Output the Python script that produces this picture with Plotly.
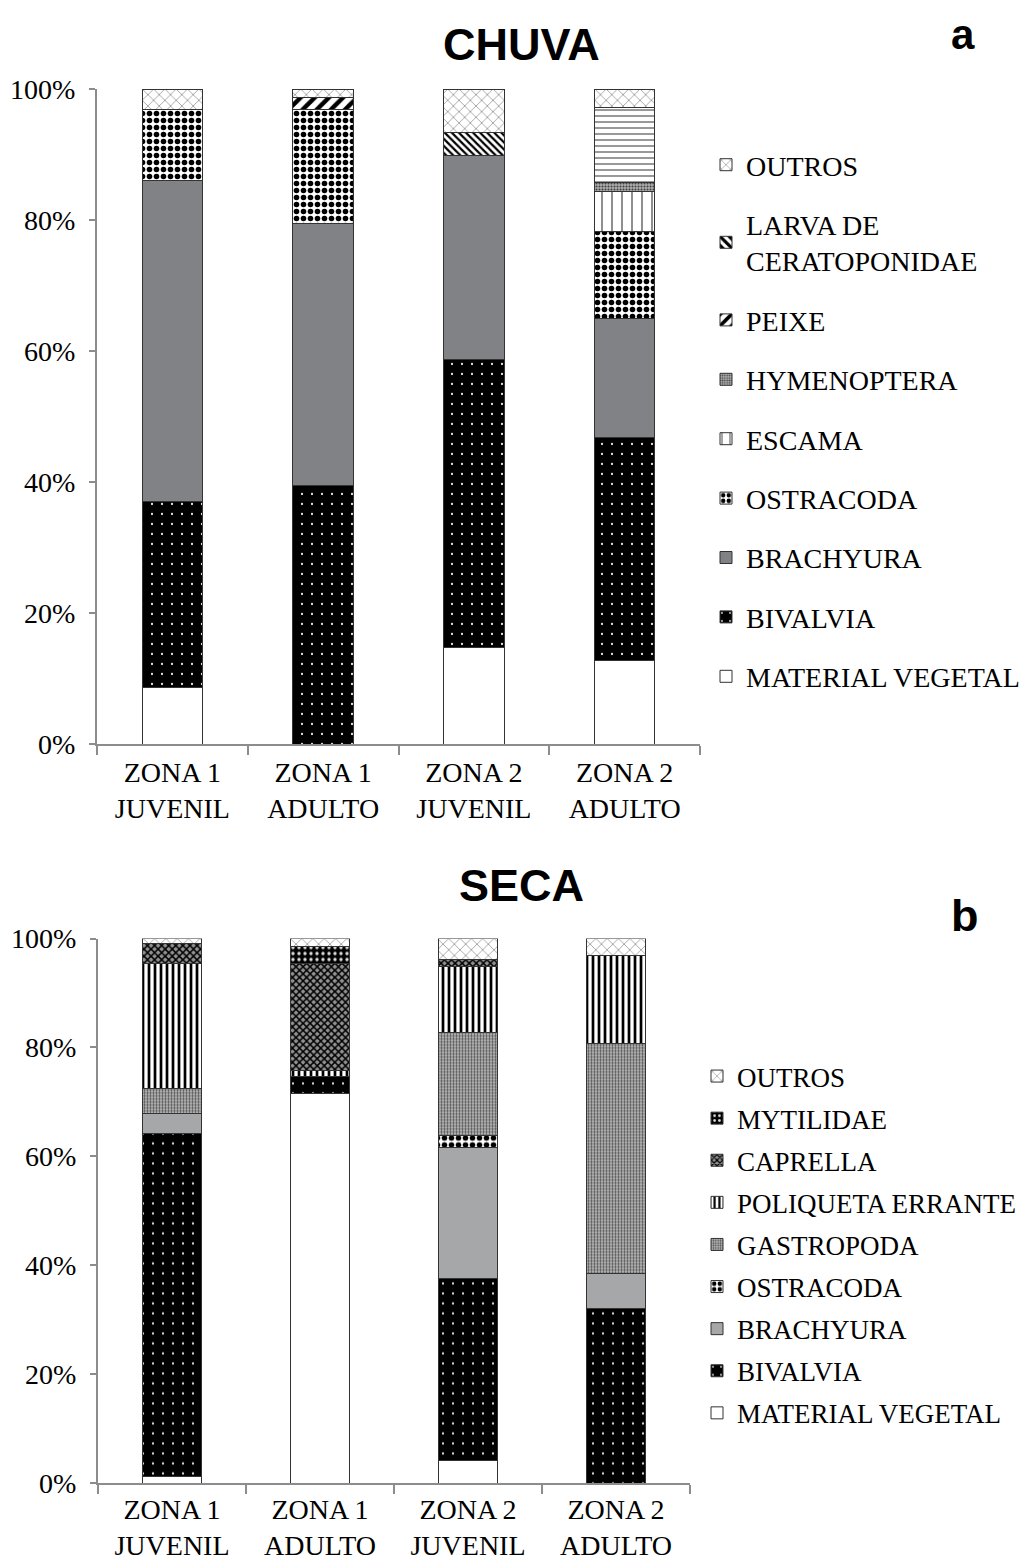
import plotly.graph_objects as go

# ---------------- DATA ----------------
categories = ["ZONA 1<br>JUVENIL", "ZONA 1<br>ADULTO", "ZONA 2<br>JUVENIL", "ZONA 2<br>ADULTO"]
y_ticks = [0, 20, 40, 60, 80, 100]
y_tick_labels = ["0%", "20%", "40%", "60%", "80%", "100%"]

# CHUVA (a) - percentages
chuva_material_vegetal = [8.6, 0.0, 14.7, 12.7]
chuva_bivalvia = [28.5, 39.4, 44.0, 34.1]
chuva_brachyura = [48.9, 40.1, 31.1, 18.2]
chuva_ostracoda = [10.9, 17.3, 0.0, 13.3]
chuva_escama = [0.0, 0.0, 0.0, 6.0]
chuva_hymenoptera = [0.0, 0.0, 0.0, 1.4]
chuva_peixe = [0.0, 1.9, 0.0, 0.0]
chuva_larva = [0.0, 0.0, 3.6, 11.5]
chuva_outros = [3.1, 1.3, 6.6, 2.8]

# SECA (b) - percentages
seca_material_vegetal = [1.2, 71.5, 4.2, 0.0]
seca_bivalvia = [63.0, 3.1, 33.3, 32.1]
seca_brachyura = [3.6, 0.0, 24.2, 6.3]
seca_ostracoda = [0.0, 0.0, 2.1, 0.0]
seca_gastropoda = [4.6, 0.0, 19.0, 42.4]
seca_poliqueta = [23.0, 1.2, 12.0, 16.1]
seca_caprella = [3.7, 19.7, 1.4, 0.0]
seca_mytilidae = [0.0, 3.0, 0.0, 0.0]
seca_outros = [0.9, 1.5, 3.8, 3.1]

chuva_series = [
    ("MATERIAL VEGETAL", chuva_material_vegetal),
    ("BIVALVIA", chuva_bivalvia),
    ("BRACHYURA", chuva_brachyura),
    ("OSTRACODA", chuva_ostracoda),
    ("ESCAMA", chuva_escama),
    ("HYMENOPTERA", chuva_hymenoptera),
    ("PEIXE", chuva_peixe),
    ("LARVA DE<br>CERATOPONIDAE", chuva_larva),
    ("OUTROS", chuva_outros),
]
seca_series = [
    ("MATERIAL VEGETAL", seca_material_vegetal),
    ("BIVALVIA", seca_bivalvia),
    ("BRACHYURA", seca_brachyura),
    ("OSTRACODA", seca_ostracoda),
    ("GASTROPODA", seca_gastropoda),
    ("POLIQUETA ERRANTE", seca_poliqueta),
    ("CAPRELLA", seca_caprella),
    ("MYTILIDAE", seca_mytilidae),
    ("OUTROS", seca_outros),
]

# ---------------- STYLES ----------------
def pat(shape, fg, bg, size, solidity):
    return dict(shape=shape, fgcolor=fg, bgcolor=bg, size=size, solidity=solidity, fillmode="replace")

styles_chuva = {
    "MATERIAL VEGETAL": ("white", None),
    "BIVALVIA": ("black", pat(".", "#e0e0e0", "black", 10, 0.04)),
    "BRACHYURA": ("#808285", None),
    "OSTRACODA": ("white", pat(".", "black", "white", 7, 0.5)),
    "ESCAMA": ("white", pat("|", "#444444", "white", 10, 0.12)),
    "HYMENOPTERA": ("#9a9a9a", pat(".", "#404040", "#b0b0b0", 3, 0.4)),
    "PEIXE": ("white", pat("/", "black", "white", 10, 0.45)),
    "LARVA DE<br>CERATOPONIDAE": ("white", pat(["\\", "\\", "\\", "-"], ["black", "black", "black", "#777777"], "white", [5, 5, 5, 6], [0.45, 0.45, 0.45, 0.25])),
    "OUTROS": ("white", pat("x", "#777777", "white", 8, 0.15)),
}
styles_seca = {
    "MATERIAL VEGETAL": ("white", None),
    "BIVALVIA": ("black", pat(".", "#e0e0e0", "black", 10, 0.04)),
    "BRACHYURA": ("#a6a7a9", None),
    "OSTRACODA": ("white", pat(".", "black", "white", 7, 0.5)),
    "GASTROPODA": ("#9a9a9a", pat(".", "#505050", "#c0c0c0", 3, 0.45)),
    "POLIQUETA ERRANTE": ("white", pat("|", "black", "white", 6, 0.45)),
    "CAPRELLA": ("#555555", pat("x", "black", "#909090", 5, 0.5)),
    "MYTILIDAE": ("black", pat(".", "#dddddd", "black", 6, 0.25)),
    "OUTROS": ("white", pat("x", "#777777", "white", 8, 0.15)),
}

fig = go.Figure()

def add_series(series, styles, xa, ya, legend):
    for i, (name, vals) in enumerate(series):
        color, pattern = styles[name]
        marker = dict(color=color, line=dict(color="#333333", width=1))
        if pattern is not None:
            marker["pattern"] = pattern
        fig.add_trace(go.Bar(
            x=categories,
            y=[v if v else None for v in vals],
            name=name,
            marker=marker,
            xaxis=xa, yaxis=ya,
            legend=legend,
            legendgroup=legend + str(i),
            legendrank=100 - i,
            width=0.4,
        ))

add_series(chuva_series, styles_chuva, "x", "y", "legend")
add_series(seca_series, styles_seca, "x2", "y2", "legend2")

# page has an 8px body margin: figure is 1022x1556 placed at (8, 8)
OFF = 8
W, H = 1022, 1556
def fx(p):
    return (p - OFF) / W
def fy(p):
    return 1 - (p - OFF) / H

serif = "Liberation Serif, Times New Roman, serif"
axis_font = dict(family=serif, size=28, color="black")

def xaxis_cfg(domain, anchor, standoff):
    return dict(domain=domain, anchor=anchor, type="category", showline=True, linecolor="#8c8c8c",
                linewidth=2, ticks="outside", tickson="boundaries", ticklen=9, tickcolor="#8c8c8c",
                tickwidth=2, tickfont=axis_font, showgrid=False, zeroline=False, automargin=False,
                ticklabelstandoff=standoff)

def yaxis_cfg(domain, anchor):
    return dict(domain=domain, anchor=anchor, range=[0, 100], tickvals=y_ticks, ticktext=y_tick_labels,
                showline=True, linecolor="#8c8c8c", linewidth=2, ticks="outside", ticklen=6,
                tickcolor="#8c8c8c", tickwidth=2, tickfont=axis_font, showgrid=False, zeroline=False,
                ticklabelstandoff=8, automargin=False)

fig.update_layout(
    width=W, height=H,
    margin=dict(l=0, r=0, t=0, b=0, autoexpand=False),
    paper_bgcolor="white", plot_bgcolor="white",
    barmode="stack",
    xaxis=xaxis_cfg([fx(97), fx(700)], "y", 2),
    yaxis=yaxis_cfg([fy(744), fy(89)], "x"),
    xaxis2=xaxis_cfg([fx(98), fx(690)], "y2", 0),
    yaxis2=yaxis_cfg([fy(1483), fy(938.5)], "x2"),
    legend=dict(x=fx(706), y=fy(140), xanchor="left", yanchor="top", traceorder="grouped",
                font=dict(family=serif, size=28, color="black"), tracegroupgap=20, itemwidth=30,
                bgcolor="rgba(0,0,0,0)"),
    legend2=dict(x=fx(697), y=fy(1052), xanchor="left", yanchor="top", traceorder="grouped",
                 font=dict(family=serif, size=27, color="black"), tracegroupgap=4, itemwidth=30,
                 bgcolor="rgba(0,0,0,0)"),
    showlegend=True,
)

title_font = dict(family="Liberation Sans, Arial, sans-serif", size=45, color="black")
label_font = dict(family="Liberation Sans, Arial, sans-serif", size=42, color="black")
fig.add_annotation(text="<b>CHUVA</b>", x=fx(521), y=fy(45), xref="paper", yref="paper",
                   showarrow=False, font=title_font, xanchor="center", yanchor="middle")
fig.add_annotation(text="<b>SECA</b>", x=fx(521), y=fy(885), xref="paper", yref="paper",
                   showarrow=False, font=title_font, xanchor="center", yanchor="middle")
fig.add_annotation(text="<b>a</b>", x=fx(963), y=fy(35), xref="paper", yref="paper",
                   showarrow=False, font=label_font, xanchor="center", yanchor="middle")
fig.add_annotation(text="<b>b</b>", x=fx(965), y=fy(915), xref="paper", yref="paper",
                   showarrow=False, font=title_font, xanchor="center", yanchor="middle")

fig.write_html("out.html")
